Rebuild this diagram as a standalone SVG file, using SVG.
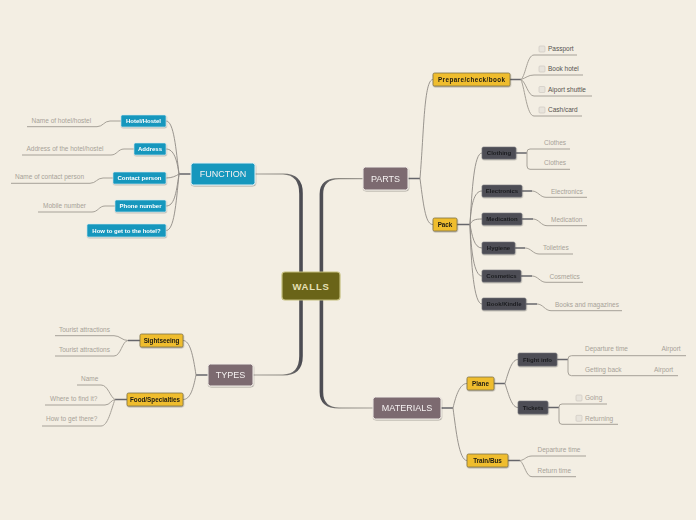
<svg xmlns="http://www.w3.org/2000/svg" width="696" height="520" viewBox="0 0 696 520">
<defs>
<style>
.bg{fill:#f3eee3}
text{font-family:"Liberation Sans",Arial,sans-serif}
.main rect{fill:#7b6b70;stroke:#f4efe9;stroke-width:1}
.main text{fill:#f6f1f1;font-size:9px;text-anchor:middle;dominant-baseline:central}
.main.fn rect{fill:#1797bd;stroke:#e3f2f6}
.blue rect{fill:#1797bd;stroke:#d6eef5;stroke-width:0.6}
.blue text{fill:#ffffff;font-size:6px;font-weight:bold;text-anchor:middle;dominant-baseline:central}
.yel rect{fill:#efbd2f;stroke:#7f7148;stroke-width:0.8}
.yel text{fill:#1c1a14;font-size:6.3px;font-weight:bold;text-anchor:middle;dominant-baseline:central}
.dark rect{fill:#4d4e55;stroke:#77777d;stroke-width:0.6}
.dark text{fill:#1b1b1f;font-size:6px;font-weight:bold;text-anchor:middle;dominant-baseline:central}
.node{filter:url(#sh)}
.leaf{fill:#a7a298;font-size:6.5px}
.leafd{fill:#55534f;font-size:6.5px}
.ln{fill:none;stroke:#a6a198;stroke-width:1}
.lb{fill:none;stroke:#8e8a84;stroke-width:0.9}
.jn{fill:none;stroke:#66666b;stroke-width:1.5}
.cb{fill:#e8e4dc;stroke:#c9c5bd;stroke-width:0.6}
</style>
<filter id="sh" x="-20%" y="-30%" width="140%" height="170%">
<feDropShadow dx="0.4" dy="0.9" stdDeviation="0.5" flood-color="#000" flood-opacity="0.35"/>
</filter>
<linearGradient id="gLT" gradientUnits="userSpaceOnUse" x1="255" y1="0" x2="301" y2="0"><stop offset="0" stop-color="#a09c95"/><stop offset="0.6" stop-color="#8a8780"/><stop offset="1" stop-color="#4b4b52"/></linearGradient>
<linearGradient id="gLB" gradientUnits="userSpaceOnUse" x1="253" y1="0" x2="301" y2="0"><stop offset="0" stop-color="#a09c95"/><stop offset="0.6" stop-color="#8a8780"/><stop offset="1" stop-color="#4b4b52"/></linearGradient>
<linearGradient id="gRT" gradientUnits="userSpaceOnUse" x1="363" y1="0" x2="321" y2="0"><stop offset="0" stop-color="#a09c95"/><stop offset="0.6" stop-color="#8a8780"/><stop offset="1" stop-color="#4b4b52"/></linearGradient>
<linearGradient id="gRB" gradientUnits="userSpaceOnUse" x1="373" y1="0" x2="321" y2="0"><stop offset="0" stop-color="#a09c95"/><stop offset="0.6" stop-color="#8a8780"/><stop offset="1" stop-color="#4b4b52"/></linearGradient>
</defs>
<rect class="bg" x="0" y="0" width="696" height="520"/>

<g id="connectors">
<path fill="url(#gLT)" d="M255,173.4 H283 Q302.8,173.4 302.8,193 V272 H299.2 V194 Q299.2,175 283,174.6 H255 Z"/>
<path fill="url(#gLB)" d="M299.2,300 H302.8 V356 Q302.8,375.6 283,375.6 H253 V374.4 H283 Q299.2,374.4 299.2,356 Z"/>
<path fill="url(#gRT)" d="M319.6,272 V194 Q319.6,178 339,178 H363 V179.2 H339 Q323.2,179.2 323.2,194 V272 Z"/>
<path fill="url(#gRB)" d="M319.6,300 V392 Q319.6,408.6 339,408.6 H373 V407.4 H339 Q323.2,407.4 323.2,392 V300 Z"/>

<path class="jn" d="M191,174 H179"/>
<path class="lb" d="M179,174 C176,150 174,121 166,121"/>
<path class="lb" d="M179,174 C177,160 174,149 166,149"/>
<path class="lb" d="M179,174 C176,176 172,178 166,178"/>
<path class="lb" d="M179,174 C176,195 174,206 166,206"/>
<path class="lb" d="M179,174 C176,205 174,230.5 166,230.5"/>
<path class="ln" d="M121,121 H110 C104,121 103,126.7 97,126.7 H27"/>
<path class="ln" d="M134,149 H124 C118,149 117,155 111,155 H22"/>
<path class="ln" d="M113,178 H103 C97,178 96,183.3 90,183.3 H11"/>
<path class="ln" d="M115,206 H105 C99,206 98,212 92,212 H38"/>

<path class="jn" d="M208,375 H196"/>
<path class="lb" d="M196,375 C193,355 190,340.5 183,340.5"/>
<path class="lb" d="M196,375 C193,390 190,399.5 183,399.5"/>
<path class="jn" d="M140,340.5 H128"/>
<path class="ln" d="M128,340.5 C122,340.5 120,335.7 114,335.7 H55"/>
<path class="ln" d="M128,340.5 C122,341 121,356 114,356 H55"/>
<path class="jn" d="M127,399.5 H115"/>
<path class="ln" d="M115,399.5 C110,397 108,385 101,385 H77"/>
<path class="ln" d="M115,399.5 C111,400 110,405 105,405 H45"/>
<path class="ln" d="M115,399.5 C111,410 108,426 101,426 H42"/>

<path class="jn" d="M408,178.5 H420"/>
<path class="lb" d="M420,178.5 C424,130 424,79.5 433,79.5"/>
<path class="lb" d="M420,178.5 C424,210 426,224.5 433,224.5"/>
<path class="jn" d="M510,79.5 H521"/>
<path class="ln" d="M521,79.5 C526,75 527,55 534,55 H577"/>
<path class="ln" d="M521,79.5 C526,78 528,75 534,75 H583"/>
<path class="ln" d="M521,79.5 C526,82 528,96 534,96 H592"/>
<path class="ln" d="M521,79.5 C525,90 527,116 534,116 H582"/>
<path class="jn" d="M457,224.5 H470"/>
<path class="lb" d="M470,224.5 C472,190 474,153 482,153"/>
<path class="lb" d="M470,224.5 C471,205 474,191 482,191"/>
<path class="lb" d="M470,224.5 C472,220 475,219 482,219"/>
<path class="lb" d="M470,224.5 C472,235 474,248 482,248"/>
<path class="lb" d="M470,224.5 C471,250 474,276 482,276"/>
<path class="lb" d="M470,224.5 C471,265 474,304 482,304"/>
<path class="jn" d="M516,153 H527"/>
<path class="ln" d="M527,153 V152 Q527,149 530,149 H570"/>
<path class="ln" d="M527,153 V166 Q527,169.3 530,169.3 H570"/>
<path class="jn" d="M522,191 H532"/>
<path class="ln" d="M532,191 C538,191 540,197.3 546,197.3 H587"/>
<path class="jn" d="M522,219 H533"/>
<path class="ln" d="M533,219 C539,219 541,225.7 547,225.7 H587"/>
<path class="jn" d="M515,248 H525"/>
<path class="ln" d="M525,248 C531,248 533,254 539,254 H573"/>
<path class="jn" d="M521,276 H532"/>
<path class="ln" d="M532,276 C538,276 540,282.3 546,282.3 H583"/>
<path class="jn" d="M526,304 H537"/>
<path class="ln" d="M537,304 C543,304 545,310.7 551,310.7 H622"/>

<path class="jn" d="M441,408 H453"/>
<path class="lb" d="M453,408 C456,395 460,383.5 467,383.5"/>
<path class="lb" d="M453,408 C456,430 459,460.5 467,460.5"/>
<path class="jn" d="M494,383.5 H505"/>
<path class="lb" d="M505,383.5 C509,370 512,359.5 518,359.5"/>
<path class="lb" d="M505,383.5 C509,396 512,407.5 518,407.5"/>
<path class="jn" d="M557,359.5 H568"/>
<path class="ln" d="M568,359.5 V359 Q568,355.7 571.5,355.7 H686"/>
<path class="ln" d="M568,359.5 V372 Q568,375.7 571.5,375.7 H678"/>
<path class="jn" d="M548,407.5 H559"/>
<path class="ln" d="M559,407.5 V407 Q559,404 562,404 H607"/>
<path class="ln" d="M559,407.5 V421 Q559,424.3 562,424.3 H618"/>
<path class="jn" d="M508,460.5 H520"/>
<path class="ln" d="M520,460.5 C525,460 526,456 532,456 H586"/>
<path class="ln" d="M520,460.5 C525,465 526,476.7 532,476.7 H576"/>
</g>

<g id="walls"><rect x="282" y="272" width="58" height="28" rx="3" fill="#6a6418" stroke="#c4be7c" stroke-width="1.2"/><text x="311" y="286.5" fill="#e6e0b6" font-size="9.5" font-weight="bold" letter-spacing="0.8" text-anchor="middle" dominant-baseline="central">WALLS</text></g>

<g id="function" class="main fn node"><rect x="191" y="163" width="64" height="22" rx="2.5"/><text x="223" y="174">FUNCTION</text></g>
<g id="types" class="main node"><rect x="208" y="364" width="45" height="22" rx="2.5"/><text x="230.5" y="375">TYPES</text></g>
<g id="parts" class="main node"><rect x="363" y="167" width="45" height="23" rx="2.5"/><text x="385.5" y="178.5">PARTS</text></g>
<g id="materials" class="main node"><rect x="373" y="397" width="68" height="22" rx="2.5"/><text x="407" y="408">MATERIALS</text></g>

<g id="hotel" class="blue node"><rect x="121" y="115" width="45" height="12" rx="1.5"/><text x="143.5" y="121">Hotel/Hostel</text></g>
<g id="address" class="blue node"><rect x="134" y="143" width="32" height="12" rx="1.5"/><text x="150" y="149">Address</text></g>
<g id="contact" class="blue node"><rect x="113" y="172" width="53" height="12" rx="1.5"/><text x="139.5" y="178">Contact person</text></g>
<g id="phone" class="blue node"><rect x="115" y="200" width="51" height="12" rx="1.5"/><text x="140.5" y="206">Phone number</text></g>
<g id="howto" class="blue node"><rect x="87" y="224" width="79" height="13" rx="1.5"/><text x="126.5" y="230.5">How to get to the hotel?</text></g>

<g id="leaves-function">
<text class="leaf" x="31.5" y="122.7">Name of hotel/hostel</text>
<text class="leaf" x="26.5" y="150.7">Address of the hotel/hostel</text>
<text class="leaf" x="15" y="178.7">Name of contact person</text>
<text class="leaf" x="43" y="207.5">Mobile number</text>
</g>

<g id="sightseeing" class="yel node"><rect x="140" y="334" width="43" height="13" rx="1.5"/><text x="161.5" y="340.5">Sightseeing</text></g>
<g id="food" class="yel node"><rect x="127" y="393" width="56" height="13" rx="1.5"/><text x="155" y="399.5">Food/Specialties</text></g>
<g id="leaves-types">
<text class="leaf" x="59" y="331.7">Tourist attractions</text>
<text class="leaf" x="59" y="352.3">Tourist attractions</text>
<text class="leaf" x="81" y="380.7">Name</text>
<text class="leaf" x="50" y="400.7">Where to find it?</text>
<text class="leaf" x="46" y="421">How to get there?</text>
</g>

<g id="prepare" class="yel node"><rect x="433" y="73" width="77" height="13" rx="1.5"/><text x="471.5" y="79.5" textLength="67" lengthAdjust="spacing">Prepare/check/book</text></g>
<g id="pack" class="yel node"><rect x="433" y="218" width="24" height="13" rx="1.5"/><text x="445" y="224.5">Pack</text></g>
<g id="checklist">
<rect class="cb" x="539" y="46" width="6" height="6" rx="1"/><text class="leafd" x="548" y="51">Passport</text>
<rect class="cb" x="539" y="66" width="6" height="6" rx="1"/><text class="leafd" x="548" y="71">Book hotel</text>
<rect class="cb" x="539" y="86.5" width="6" height="6" rx="1"/><text class="leafd" x="548" y="91.7">Aiport shuttle</text>
<rect class="cb" x="539" y="107" width="6" height="6" rx="1"/><text class="leafd" x="548" y="112">Cash/card</text>
</g>

<g id="clothing" class="dark node"><rect x="482" y="147" width="34" height="12" rx="1.5"/><text x="499" y="153">Clothing</text></g>
<g id="electronics" class="dark node"><rect x="482" y="185" width="40" height="12" rx="1.5"/><text x="502" y="191">Electronics</text></g>
<g id="medication" class="dark node"><rect x="482" y="213" width="40" height="12" rx="1.5"/><text x="502" y="219">Medication</text></g>
<g id="hygiene" class="dark node"><rect x="482" y="242" width="33" height="12" rx="1.5"/><text x="498.5" y="248">Hygiene</text></g>
<g id="cosmetics" class="dark node"><rect x="482" y="270" width="39" height="12" rx="1.5"/><text x="501.5" y="276">Cosmetics</text></g>
<g id="bookkindle" class="dark node"><rect x="482" y="298" width="44" height="12" rx="1.5"/><text x="504" y="304">Book/Kindle</text></g>
<g id="leaves-pack">
<text class="leaf" x="544" y="144.5">Clothes</text>
<text class="leaf" x="544" y="164.5">Clothes</text>
<text class="leaf" x="551" y="193.5">Electronics</text>
<text class="leaf" x="551" y="221.5">Medication</text>
<text class="leaf" x="543" y="249.5">Toiletries</text>
<text class="leaf" x="549.5" y="278.5">Cosmetics</text>
<text class="leaf" x="555" y="306.5">Books and magazines</text>
</g>

<g id="plane" class="yel node"><rect x="467" y="377" width="27" height="13" rx="1.5"/><text x="480.5" y="383.5">Plane</text></g>
<g id="trainbus" class="yel node"><rect x="467" y="454" width="41" height="13" rx="1.5"/><text x="487.5" y="460.5">Train/Bus</text></g>
<g id="flightinfo" class="dark node"><rect x="518" y="353" width="39" height="13" rx="1.5"/><text x="537.5" y="359.5">Flight info</text></g>
<g id="tickets" class="dark node"><rect x="518" y="401" width="30" height="13" rx="1.5"/><text x="533" y="407.5">Tickets</text></g>
<g id="leaves-materials">
<text class="leaf" x="585" y="351">Departure time</text>
<text class="leaf" x="661.5" y="351">Airport</text>
<text class="leaf" x="585" y="372">Getting back</text>
<text class="leaf" x="654" y="372">Airport</text>
<rect class="cb" x="576" y="395" width="6" height="6" rx="1"/><text class="leaf" x="585" y="400.3">Going</text>
<rect class="cb" x="576" y="415.3" width="6" height="6" rx="1"/><text class="leaf" x="585" y="420.5">Returning</text>
<text class="leaf" x="537.5" y="452">Departure time</text>
<text class="leaf" x="537.5" y="472.5">Return time</text>
</g>
</svg>
